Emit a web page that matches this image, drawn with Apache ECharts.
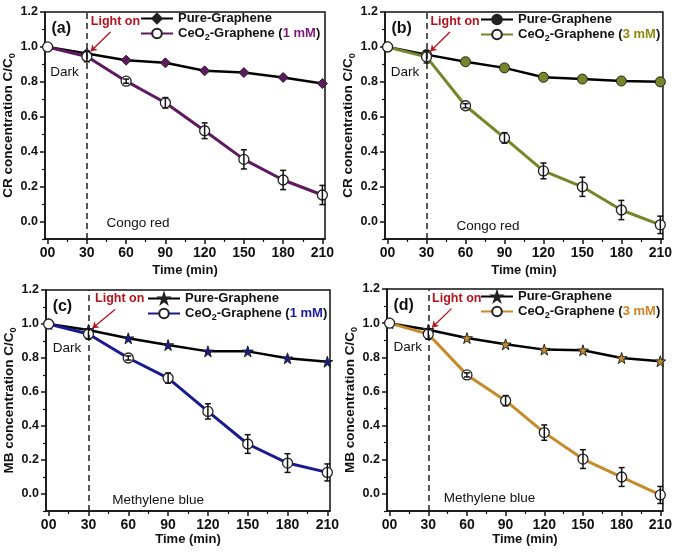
<!DOCTYPE html>
<html><head><meta charset="utf-8">
<script src="https://cdn.jsdelivr.net/npm/echarts@6/dist/echarts.min.js"></script>
<style>html,body{margin:0;padding:0;background:#fff}#c{width:675px;height:552px}</style>
</head><body><div id="c"></div>
<script>
// ---------- data ----------
const time = [0, 30, 60, 90, 120, 150, 180, 210];
const xTicks = [0, 30, 60, 90, 120, 150, 180, 210];
const xMinorTicks = [15, 45, 75, 105, 135, 165, 195];
const yTicks = [0, 0.2, 0.4, 0.6, 0.8, 1.0, 1.2];
const yMinorTicks = [-0.1, 0.1, 0.3, 0.5, 0.7, 0.9, 1.1];

const panelLabels = ['(a)', '(b)', '(c)', '(d)'];
const dyeNames = ['Congo red', 'Congo red', 'Methylene blue', 'Methylene blue'];
const yTitlePrefix = ['CR', 'CR', 'MB', 'MB'];
const doses = ['1 mM', '3 mM', '1 mM', '3 mM'];
const pureName = 'Pure-Graphene';

const pureA = [1.0, 0.962, 0.924, 0.909, 0.863, 0.853, 0.825, 0.79];
const ceoA  = [1.0, 0.945, 0.804, 0.68, 0.52, 0.356, 0.238, 0.152];
const ceoErrA = [0, 0.03, 0.012, 0.03, 0.045, 0.055, 0.055, 0.055];

const pureB = [1.0, 0.956, 0.915, 0.88, 0.826, 0.816, 0.805, 0.80];
const ceoB  = [1.0, 0.943, 0.663, 0.479, 0.29, 0.199, 0.066, -0.019];
const ceoErrB = [0, 0.035, 0.012, 0.03, 0.045, 0.055, 0.055, 0.05];

const pureC = [1.0, 0.965, 0.916, 0.876, 0.839, 0.839, 0.798, 0.778];
const ceoC  = [1.0, 0.941, 0.80, 0.682, 0.486, 0.294, 0.182, 0.127];
const ceoErrC = [0, 0.03, 0.012, 0.03, 0.045, 0.055, 0.055, 0.05];

const pureD = [1.0, 0.961, 0.913, 0.876, 0.845, 0.841, 0.796, 0.777];
const ceoD  = [1.0, 0.936, 0.697, 0.546, 0.359, 0.204, 0.099, -0.006];
const ceoErrD = [0, 0.03, 0.012, 0.03, 0.045, 0.055, 0.055, 0.05];

const pureData = [pureA, pureB, pureC, pureD];
const ceoData = [ceoA, ceoB, ceoC, ceoD];
const ceoErr = [ceoErrA, ceoErrB, ceoErrC, ceoErrD];

// ---------- styles / layout ----------
const FONT = 'Liberation Sans, Arial, sans-serif';
const lineColors = ['#5e1a5e', '#76842a', '#1a1a8c', '#c48a2c'];
const doseColors = ['#7a1a7a', '#8a8a10', '#1a1a9a', '#c8862a'];
const STAR = 'path://M50,0 L61,35 L98,35 L68,57 L79,91 L50,70 L21,91 L32,57 L2,35 L39,35 Z';
const pureMarkers = ['diamond', 'circle', STAR, STAR];
const grids = [
  {left: 45, top: 12, width: 280, height: 227},
  {left: 385, top: 12, width: 280, height: 227},
  {left: 46, top: 290, width: 284, height: 221},
  {left: 387, top: 289, width: 280, height: 222}
];
const legendPos = [[140, 12], [480, 13], [147, 292], [480, 290]];
const xNameGap = [25, 25, 22, 22];
const labelPos = [[3, 1.105], [3, 1.105], [3, 1.105], [3, 1.105]];
const lightPos = [[33, 1.145], [33, 1.145], [35, 1.147], [33, 1.147]];
const darkPos = [[2, 0.857], [2.5, 0.857], [3, 0.857], [3, 0.857]];
const dyePos = [[45, -0.01], [53, -0.03], [48, -0.035], [42, -0.026]];
const X_MIN = -2, X_MAX = 212, Y_MIN = -0.1, Y_MAX = 1.2;

const xAxes = [], yAxes = [], series = [], legends = [];
grids.forEach((g, i) => {
  const tickFont = {fontFamily: FONT, fontSize: 13, fontWeight: 'bold', color: '#111'};
  xAxes.push({
    type: 'value', gridIndex: i, min: X_MIN, max: X_MAX, position: 'bottom',
    name: 'Time (min)', nameLocation: 'middle', nameGap: xNameGap[i],
    nameTextStyle: {fontFamily: FONT, fontSize: 13, fontWeight: 'bold', color: '#111'},
    axisLine: {show: true, onZero: false, lineStyle: {color: '#111', width: 1.5}},
    axisTick: {show: true, customValues: xTicks, length: 5, lineStyle: {color: '#111', width: 1.5}},
    axisLabel: Object.assign({customValues: xTicks, margin: 7,
      formatter: v => v === 0 ? '00' : String(v)}, tickFont, {fontSize: 14}),
    splitLine: {show: false}
  });
  xAxes.push({
    type: 'value', gridIndex: i, min: X_MIN, max: X_MAX, position: 'bottom',
    axisLine: {show: false, onZero: false},
    axisTick: {show: true, customValues: xMinorTicks, length: 3, lineStyle: {color: '#111', width: 1.2}},
    axisLabel: {show: false}, splitLine: {show: false}
  });
  yAxes.push({
    type: 'value', gridIndex: i, min: Y_MIN, max: Y_MAX, position: 'left',
    name: yTitlePrefix[i] + ' concentration C/C{s|0}',
    nameLocation: 'middle', nameGap: 27, nameRotate: 90,
    nameTextStyle: {fontFamily: FONT, fontSize: 13.5, fontWeight: 'bold', color: '#111',
      rich: {s: {fontFamily: FONT, fontSize: 9, fontWeight: 'bold', color: '#111', padding: [8, 0, 0, 0]}}},
    axisLine: {show: true, onZero: false, lineStyle: {color: '#111', width: 1.5}},
    axisTick: {show: true, customValues: yTicks, length: 5, lineStyle: {color: '#111', width: 1.5}},
    axisLabel: Object.assign({customValues: yTicks, margin: 7,
      formatter: v => v.toFixed(1)}, tickFont, {fontSize: 12.5}),
    splitLine: {show: false}
  });
  yAxes.push({
    type: 'value', gridIndex: i, min: Y_MIN, max: Y_MAX, position: 'left',
    axisLine: {show: false, onZero: false},
    axisTick: {show: true, customValues: yMinorTicks, length: 3, lineStyle: {color: '#111', width: 1.2}},
    axisLabel: {show: false}, splitLine: {show: false}
  });

  const pts = (arr) => time.map((t, k) => [t, arr[k]]);
  series.push({
    type: 'line', name: 'pure' + i, xAxisIndex: 2 * i, yAxisIndex: 2 * i,
    data: time.map((t, k) => ({value: [t, pureData[i][k]],
      itemStyle: {color: k === 0 ? '#fff' : lineColors[i]}})),
    symbol: pureMarkers[i], symbolSize: i >= 2 ? 11 : 10,
    lineStyle: {color: '#000', width: 2.5},
    itemStyle: {color: '#222', borderColor: '#222', borderWidth: 1},
    z: 3
  });
  series.push({
    type: 'line', name: 'ceo' + i, xAxisIndex: 2 * i, yAxisIndex: 2 * i,
    data: pts(ceoData[i]),
    symbol: 'circle', symbolSize: 10,
    lineStyle: {color: lineColors[i], width: 3},
    itemStyle: {color: '#fff', borderColor: '#222', borderWidth: 1.3},
    z: 4,
    markLine: {
      silent: true, symbol: 'none', label: {show: false}, animation: false,
      data: [
        [{coord: [30, Y_MIN], lineStyle: {color: '#222', width: 1.5, type: [6, 4]}}, {coord: [30, Y_MAX]}],
        [{coord: [lightPos[i][0] + 15, 1.085], symbol: 'none', lineStyle: {color: '#b0141e', width: 1.3, type: 'solid'}},
         {coord: [33, 0.975], symbol: 'arrow', symbolSize: 6}]
      ]
    }
  });
  series.push({
    type: 'custom', name: 'err' + i, xAxisIndex: 2 * i, yAxisIndex: 2 * i,
    data: time.map((t, k) => [t, ceoData[i][k], ceoErr[i][k]]),
    z: 6,
    renderItem: (params, api) => {
      const x = api.value(0), y = api.value(1), e = api.value(2);
      if (!e) return null;
      const top = api.coord([x, y + e]);
      const bot = api.coord([x, y - e]);
      const st = {stroke: '#111', lineWidth: 1.5};
      return {type: 'group', children: [
        {type: 'line', shape: {x1: top[0], y1: top[1], x2: bot[0], y2: bot[1]}, style: st},
        {type: 'line', shape: {x1: top[0] - 3, y1: top[1], x2: top[0] + 3, y2: top[1]}, style: st},
        {type: 'line', shape: {x1: bot[0] - 3, y1: bot[1], x2: bot[0] + 3, y2: bot[1]}, style: st}
      ]};
    }
  });

  legends.push({
    orient: 'vertical', left: legendPos[i][0], top: legendPos[i][1],
    itemWidth: 32, itemHeight: 12, itemGap: 2, padding: 0,
    selectedMode: false,
    data: ['pure' + i, 'ceo' + i],
    formatter: name => name.startsWith('pure') ? '{t|' + pureName + '}'
      : '{t|CeO}{s|2}{t|-Graphene (}{c|' + doses[i] + '}{t|)}',
    textStyle: {fontFamily: FONT, fontSize: 13, fontWeight: 'bold', color: '#111',
      rich: {
        t: {fontFamily: FONT, fontSize: 13, fontWeight: 'bold', color: '#111'},
        s: {fontFamily: FONT, fontSize: 9, fontWeight: 'bold', color: '#111', padding: [8, 0, 0, 0]},
        c: {fontFamily: FONT, fontSize: 13, fontWeight: 'bold', color: doseColors[i]}
      }}
  });
});

const chart = echarts.init(document.getElementById('c'), null, {renderer: 'canvas'});
chart.setOption({
  animation: false,
  backgroundColor: '#fff',
  grid: grids.map(g => Object.assign({show: true, borderColor: '#111', borderWidth: 1.5, backgroundColor: 'transparent'}, g)),
  xAxis: xAxes, yAxis: yAxes, legend: legends, series: series
});

const graphics = [];
grids.forEach((g, i) => {
  const px = (p) => chart.convertToPixel({xAxisIndex: 2 * i, yAxisIndex: 2 * i}, p);
  const txt = (p, text, style) => {
    const c = px(p);
    graphics.push({type: 'text', x: c[0], y: c[1], silent: true, z: 10,
      style: Object.assign({text: text, fontFamily: FONT, fill: '#111', align: 'left', verticalAlign: 'middle'}, style)});
  };
  txt(labelPos[i], panelLabels[i], {fontSize: 16, fontWeight: 'bold'});
  txt(lightPos[i], 'Light on', {fontSize: 12.5, fontWeight: 'bold', fill: '#b0141e'});
  txt(darkPos[i], 'Dark', {fontSize: 13.5});
  txt(dyePos[i], dyeNames[i], {fontSize: 13.5});
});
chart.setOption({graphic: graphics});
</script>
</body></html>
